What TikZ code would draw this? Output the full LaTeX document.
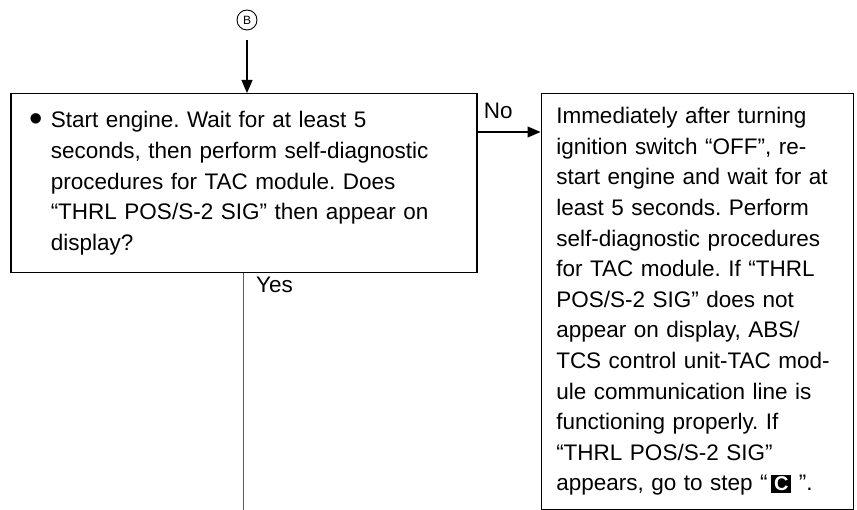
\documentclass[tikz,border=0pt]{standalone}
\usepackage{fontspec}
\setmainfont{Liberation Sans}
\usetikzlibrary{arrows.meta,positioning}

% black tag for a step letter
\newcommand{\steptag}[1]{{\setlength{\fboxsep}{2pt}\colorbox{black}{\makebox[16pt]{\textcolor{white}{\fontsize{20}{20}\selectfont\bfseries #1}}}}}
% big bullet hanging in the left margin
\newcommand{\bigbullet}{\llap{\raisebox{-3.5pt}{\scalebox{1.7}{\textbullet}}\hspace{8pt}}}

\begin{document}
\begin{tikzpicture}[x=1pt, y=-1pt,
    box/.style={rectangle, draw, line width=1.5pt, align=left, anchor=north west, inner xsep=10pt, inner ysep=13.7pt, font=\fontsize{22.5}{30.6}\selectfont\frenchspacing},
    arrow/.style={line width=1.2pt, -{Triangle[length=13pt, width=11pt]}},
    tag/.style={font=\fontsize{22.5}{26}\selectfont, inner sep=0pt}]

    \useasboundingbox (0,0) rectangle (857,510);
    \clip (0,0) rectangle (857,510);

    \node [circle, draw, line width=0.9pt, minimum size=20pt, inner sep=0pt, font=\fontsize{12}{12}\selectfont] (b) at (247,20) {B};

    \node [box, text width=446pt, minimum height=179pt] (q) at (10,93)
        {\leftskip=30pt\bigbullet Start engine. Wait for at least 5\\
         seconds, then perform self-diagnostic\\
         procedures for TAC module. Does\\
         “THRL POS/S-2 SIG” then appear on\\
         display?\par};
    \node [box, text width=282pt, inner xsep=15pt, right=63pt of q.north east, anchor=north west] (r)
        {Immediately after turning\\
         ignition switch “OFF”, re-\\
         start engine and wait for at\\
         least 5 seconds. Perform\\
         self-diagnostic procedures\\
         for TAC module. If “THRL\\
         POS/S-2 SIG” does not\\
         appear on display, ABS/\\
         TCS control unit-TAC mod-\\
         ule communication line is\\
         functioning properly. If\\
         “THRL POS/S-2 SIG”\\
         appears, go to step “\,\steptag{C} ”.};

    \coordinate (bottom) at (245,520);
    \node [tag, anchor=west] (yes) at (256,285) {Yes};

    \draw [arrow, shorten <=10pt] (b) -- (b |- q.north);
    \draw [arrow] ([yshift=-39pt]q.north east) -- node [tag, pos=0.33, above=13pt] (no) {No} ([yshift=-39pt]r.north west);
    \draw [line width=1pt, black!65] (q.south) -- (q.south |- bottom);
\end{tikzpicture}
\end{document}
